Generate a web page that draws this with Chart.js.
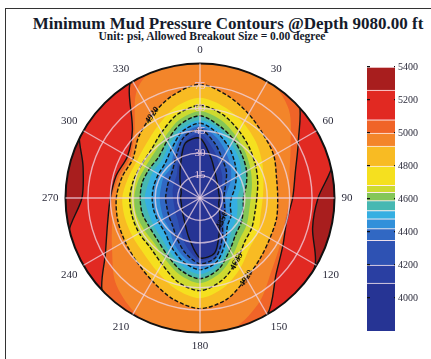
<!DOCTYPE html>
<html>
<head>
<meta charset="utf-8">
<script src="https://cdn.jsdelivr.net/npm/chart.js@4.4.1/dist/chart.umd.min.js"></script>
<style>
  html, body { margin: 0; padding: 0; background: #fff; }
  body { width: 431px; height: 359px; position: relative; overflow: hidden; font-family: "Liberation Serif", serif; }
  #frame { position: absolute; left: 5px; top: 8px; right: -4px; bottom: -4px; border-left: 1.5px solid #333; border-top: 1.5px solid #333; }
  .ttl { position: absolute; transform: translateX(-50%); white-space: nowrap; font-weight: bold; color: #151b2b; }
  #title { left: 228px; top: 14px; font-size: 17px; }
  #subtitle { left: 212px; top: 30px; font-size: 11.5px; }
  #disc { position: absolute; left: 39px; top: 43px; }
  #bar { position: absolute; left: 365px; top: 58px; }
</style>
</head>
<body>
<div id="frame"></div>
<div class="ttl" id="title">Minimum Mud Pressure Contours @Depth 9080.00 ft</div>
<div class="ttl" id="subtitle">Unit: psi, Allowed Breakout Size = 0.00 degree</div>
<canvas id="disc" width="317" height="311"></canvas>
<canvas id="bar" width="66" height="282"></canvas>
<script>
// azimuth of each sample (deg, clockwise from top)
const azimuths = ['0','15','30','45','60','75','90','105','120','135','150','165',
                  '180','195','210','225','240','255','270','285','300','315','330','345'];

// contour levels (psi) and the colour of the band just below each one
const levels = [4090, 4200, 4350, 4420, 4480, 4530, 4590, 4640, 4683, 4800, 4920, 5000, 5080, 5260, 5400];
const bandColors = ['#263494', '#2a3fa2', '#2e52b3', '#3168c3', '#3190da', '#35afe2', '#47b8b2',
                    '#84c658', '#cdda30', '#f5e01f', '#f8bb23', '#f3852a', '#f06428', '#e12922', '#a81e1e'];

// inclination (deg) where each contour crosses each azimuth, 95 = outside the rim
const c4090 = [40,28,20,16,14,13,13,13,15,19,26,38,40,28,20,16,14,13,13,13,15,19,26,38];
const c4200 = [43,34,26,21,17,15,15,15,17,20,28,39,42,34,26,21,19,18,18,19,20,22,29,39];
const c4350 = [46,38,30,25,20,17,16,17,19,21,30,41,44,38,31,26,24,23,23,23,24,26,32,42];
const c4420 = [48,42,35,29,24,19,17,18,20,23,32,42,46,41,35,29,28,27,27,27,28,28,35,44];
const c4480 = [50,45,39,33,28,24,21,21,24,26,34,44,48,44,38,33,32,32,32,32,32,33,38,46];
const c4530 = [52,48,42,37,32,28,25,26,28,30,37,46,51,47,41,37,36,36,37,36,36,36,41,48];
const c4590 = [55,50,45,40,36,32,29,30,32,34,40,49,54,50,44,40,39,40,40,40,39,39,44,51];
const c4640 = [58,54,48,43,39,36,34,34,36,38,44,52,57,53,47,43,43,44,44,43,42,43,47,54];
const c4683 = [62,58,52,47,43,40,38,38,40,42,49,57,62,58,51,47,47,47,47,46,45,46,51,58];
const c4800 = [67,63,58,53,48,44,42,42,45,47,54,62,67,63,57,53,52,52,52,50,49,51,56,63];
const c4920 = [76,71,65,60,57,53,52,53,54,57,62,70,74,70,64,60,58,57,56,54,52,58,64,71];
const c5000 = [95,92,92,84,70,62,60,59,62,68,80,90,95,92,88,80,68,61,59,56,54,62,84,95];
const c5080 = [95,95,95,93,76,66,62,60,64,72,90,95,95,95,95,92,73,64,60,58,56,64,92,95];
const c5260 = [95,95,95,95,95,92,79,78,89,95,95,95,95,95,95,95,95,91,79,81,93,95,95,95];
const c5400 = [95,95,95,95,95,95,95,95,95,95,95,95,95,95,95,95,95,95,95,95,95,95,95,95];
const contourRadii = [c4090, c4200, c4350, c4420, c4480, c4530, c4590, c4640, c4683,
                      c4800, c4920, c5000, c5080, c5260, c5400];

const solidLevels = [4090, 5080, 5260];
const dashedLevels = [4350, 4480, 4590, 4683, 4920];

// labels written on the contours
const contourLabels = [
  {level: 4920, az: '330', rot: -55},
  {level: 4350, az: '135', rot: -65},
  {level: 4683, az: '150', rot: -62},
  {level: 4920, az: '150', rot: -58}
];

// colour bar
const barMin = 3800, barMax = 5400;
const barTicks = [4000, 4200, 4400, 4600, 4800, 5000, 5200, 5400];

const serif = 'Liberation Serif';

const discSets = levels.map(function(lv, i) {
  var solid = solidLevels.includes(lv), dashed = dashedLevels.includes(lv);
  return {
    label: String(lv),
    data: contourRadii[i],
    backgroundColor: bandColors[i],
    fill: 'origin',
    borderColor: (solid || dashed) ? '#141414' : 'rgba(0,0,0,0)',
    borderWidth: (solid || dashed) ? 1.4 : 0,
    borderDash: dashed ? [4, 2] : [],
    pointRadius: 0,
    pointHitRadius: 0,
    tension: 0.3
  };
});

const clipDisc = {
  id: 'clipDisc',
  beforeDatasetsDraw(chart) {
    var s = chart.scales.r, ctx = chart.ctx;
    ctx.save();
    ctx.beginPath();
    ctx.arc(s.xCenter, s.yCenter, s.drawingArea, 0, Math.PI * 2);
    ctx.clip();
  },
  afterDatasetsDraw(chart) { chart.ctx.restore(); }
};

const contourText = {
  id: 'contourText',
  afterDatasetsDraw(chart) {
    var s = chart.scales.r, ctx = chart.ctx;
    contourLabels.forEach(function(l) {
      var i = azimuths.indexOf(l.az);
      var k = levels.indexOf(l.level);
      var p = s.getPointPositionForValue(i, contourRadii[k][i]);
      ctx.save();
      ctx.translate(p.x, p.y);
      ctx.rotate(l.rot * Math.PI / 180);
      ctx.font = 'bold 9px "' + serif + '"';
      ctx.fillStyle = '#111';
      ctx.textAlign = 'center';
      ctx.textBaseline = 'middle';
      ctx.fillText(String(l.level), 0, 0);
      ctx.restore();
    });
  }
};

const gridCol = 'rgba(240,215,230,0.75)';

new Chart(document.getElementById('disc'), {
  type: 'radar',
  data: { labels: azimuths, datasets: discSets },
  options: {
    responsive: false,
    animation: false,
    events: [],
    layout: { padding: 0 },
    plugins: { legend: { display: false }, tooltip: { enabled: false } },
    scales: {
      r: {
        min: 0, max: 90, startAngle: 0,
        ticks: {
          stepSize: 15, z: 1, showLabelBackdrop: false, backdropPadding: -5.5,
          color: 'rgba(235,200,222,0.95)',
          font: { family: serif, size: 11 },
          callback: function(v) { return (v > 0 && v < 90) ? String(v) : ''; }
        },
        grid: {
          z: 1, circular: true,
          color: function(c) { return c.tick && c.tick.value === 90 ? '#111' : gridCol; },
          lineWidth: function(c) { return c.tick && c.tick.value === 90 ? 2 : 1.4; }
        },
        angleLines: {
          display: true,
          color: function(c) { return c.index % 2 === 0 ? gridCol : 'rgba(0,0,0,0)'; },
          lineWidth: function(c) { return c.index % 2 === 0 ? 1.4 : 0; }
        },
        pointLabels: {
          display: true, padding: 7, color: '#2a2a3a',
          font: { family: serif, size: 11 },
          callback: function(l, i) { return i % 2 === 0 ? l : ''; }
        }
      }
    }
  },
  plugins: [clipDisc, contourText]
});

const barSets = bandColors.map(function(col, i) {
  var lo = i === 0 ? barMin : levels[i - 1];
  var hi = levels[i];
  return {
    data: [[lo, hi]],
    backgroundColor: col,
    borderColor: 'rgba(255,235,240,0.9)',
    borderWidth: { top: 1, bottom: 0, left: 0, right: 0 },
    borderSkipped: false,
    barPercentage: 1,
    categoryPercentage: 1,
    grouped: false
  };
});

new Chart(document.getElementById('bar'), {
  type: 'bar',
  data: { labels: [''], datasets: barSets },
  options: {
    responsive: false,
    animation: false,
    events: [],
    layout: { padding: { top: 7, bottom: 7, left: 2, right: 10 } },
    plugins: { legend: { display: false }, tooltip: { enabled: false } },
    scales: {
      x: { display: false },
      y: {
        position: 'right', min: barMin, max: barMax,
        afterBuildTicks: function(ax) { ax.ticks = barTicks.map(function(v) { return { value: v }; }); },
        ticks: {
          color: '#2a2a3a', font: { family: serif, size: 10 }, padding: 3,
          callback: function(v) { return String(v); }
        },
        grid: { z: 1, drawTicks: false, color: '#111', lineWidth: 1.2 },
        border: { display: false, dash: [3, 24] }
      }
    }
  }
});
</script>
</body>
</html>
